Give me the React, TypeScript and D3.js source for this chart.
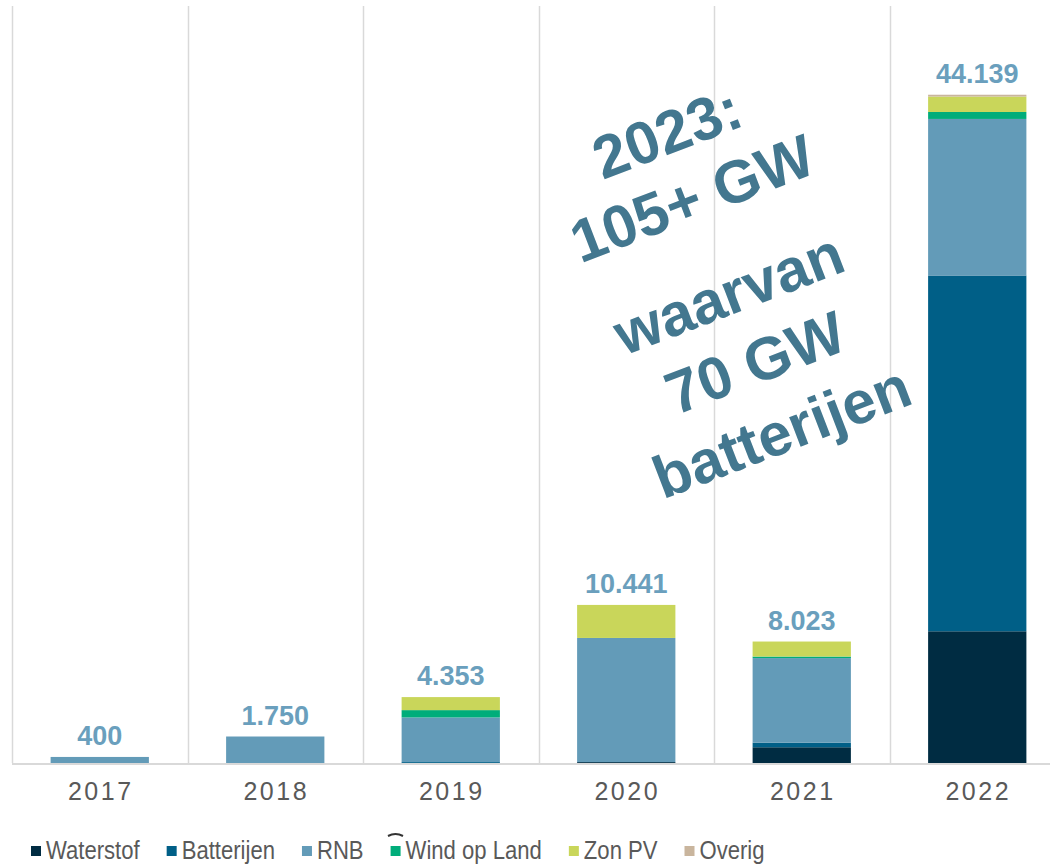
import * as d3 from 'd3';
import React from 'react';

// installed capacity requests per year (MW), stacked by technology
const years = ['2017', '2018', '2019', '2020', '2021', '2022'];
const waterstof = [0, 0, 0, 60, 1040, 8700];
const batterijen = [0, 0, 60, 0, 300, 23500];
const rnb = [400, 1750, 2950, 8200, 5590, 10340];
const windOpLand = [0, 0, 483, 0, 100, 460];
const zonPV = [0, 0, 860, 2181, 993, 1020];
const overig = [0, 0, 0, 0, 0, 119];

const seriesNames = ['Waterstof', 'Batterijen', 'RNB', 'Wind op Land', 'Zon PV', 'Overig'];
const seriesColors = ['#002c42', '#005f87', '#639bb8', '#00ad7a', '#c9d65a', '#c9b59d'];

const noteLines = ['2023:', '105+ GW', 'waarvan', '70 GW', 'batterijen'];

const W = 1050;
const H = 866;

export default function App() {
  const ref = React.useRef<SVGSVGElement>(null);

  React.useEffect(() => {
    document.body.style.margin = '0';
    if (!ref.current) return;
    const svg = d3.select(ref.current);
    svg.selectAll('*').remove();

    const rows = years.map((year, i) => ({
      year,
      Waterstof: waterstof[i],
      Batterijen: batterijen[i],
      RNB: rnb[i],
      'Wind op Land': windOpLand[i],
      'Zon PV': zonPV[i],
      Overig: overig[i],
    }));
    const totals = rows.map((r) => d3.sum(seriesNames, (k) => (r as any)[k]));

    const x = d3.scaleBand().domain(years).range([12, 1065]).paddingInner(0.44).paddingOuter(0.22);
    const y = d3.scaleLinear().domain([0, 50000]).range([763, 6]);
    const step = x.step();

    // vertical category separators
    const grid = svg.append('g');
    d3.range(years.length + 1).forEach((i) => {
      const gx = Math.round(12 + i * step) + 0.5;
      grid.append('line').attr('x1', gx).attr('x2', gx).attr('y1', 6).attr('y2', 763)
        .attr('stroke', '#d9d9d9').attr('stroke-width', 1.5);
    });

    const stack = d3.stack<any>().keys(seriesNames);
    const layers = stack(rows);
    const color = d3.scaleOrdinal<string, string>().domain(seriesNames).range(seriesColors);

    svg.append('g')
      .selectAll('g')
      .data(layers)
      .join('g')
      .attr('fill', (d) => color(d.key))
      .selectAll('rect')
      .data((d) => d)
      .join('rect')
      .attr('x', (d) => x(d.data.year)!)
      .attr('width', x.bandwidth())
      .attr('y', (d) => y(d[1]))
      .attr('height', (d) => Math.max(0, y(d[0]) - y(d[1])));

    // baseline
    svg.append('line').attr('x1', 12).attr('x2', W).attr('y1', 764).attr('y2', 764)
      .attr('stroke', '#d9d9d9').attr('stroke-width', 2);

    // totals above the bars
    const nl = d3.formatLocale({ decimal: ',', thousands: '.', grouping: [3], currency: ['', ''] });
    const fmt = nl.format(',d');
    svg.append('g')
      .selectAll('text')
      .data(rows)
      .join('text')
      .attr('x', (d) => x(d.year)! + x.bandwidth() / 2)
      .attr('y', (d, i) => y(totals[i]) - 12)
      .attr('text-anchor', 'middle')
      .attr('font-family', '"Liberation Sans", Arial, sans-serif')
      .attr('font-weight', 'bold')
      .attr('font-size', 27)
      .attr('fill', '#6a9fbd')
      .text((d, i) => fmt(totals[i]));

    // x axis labels
    svg.append('g')
      .selectAll('text')
      .data(years)
      .join('text')
      .attr('x', (d) => x(d)! + x.bandwidth() / 2 + 1)
      .attr('y', 800)
      .attr('text-anchor', 'middle')
      .attr('font-family', '"Liberation Sans", Arial, sans-serif')
      .attr('font-size', 25)
      .attr('letter-spacing', 2.5)
      .attr('fill', '#595959')
      .text((d) => d);

    // rotated annotation
    const note = svg.append('text')
      .attr('transform', 'rotate(-21)')
      .attr('text-anchor', 'middle')
      .attr('font-family', '"Liberation Sans", Arial, sans-serif')
      .attr('font-weight', 'bold')
      .attr('font-size', 60)
      .attr('fill', '#43778f');
    const noteY = [384, 454, 556, 630, 704];
    noteLines.forEach((t, i) => {
      note.append('tspan').attr('x', 575).attr('y', noteY[i]).text(t);
    });

    // legend (condensed text)
    const squeeze = 0.85;
    const legend = svg.append('g').attr('transform', 'translate(31,0)');
    let lx = 0;
    seriesNames.forEach((name, i) => {
      const item = legend.append('g').attr('transform', `translate(${lx},0)`);
      item.append('rect').attr('x', 0).attr('y', 846).attr('width', 10).attr('height', 10).attr('fill', seriesColors[i]);
      const t = item.append('g')
        .attr('transform', `translate(15,0) scale(${squeeze},1)`)
        .append('text')
        .attr('x', 0)
        .attr('y', 859)
        .attr('font-family', '"Liberation Sans", Arial, sans-serif')
        .attr('font-size', 26)
        .attr('fill', '#595959')
        .text(name);
      const tw = (t.node() as SVGTextElement).getComputedTextLength() * squeeze;
      lx += 15 + tw + 27;
    });

    // small stray mark above the legend
    svg.append('path').attr('d', 'M388,836 Q395.5,832 403,836').attr('fill', 'none')
      .attr('stroke', '#333').attr('stroke-width', 2);
  }, []);

  return <svg ref={ref} width={W} height={H} style={{ position: 'absolute', left: 0, top: 0, background: '#fff' }} />;
}
